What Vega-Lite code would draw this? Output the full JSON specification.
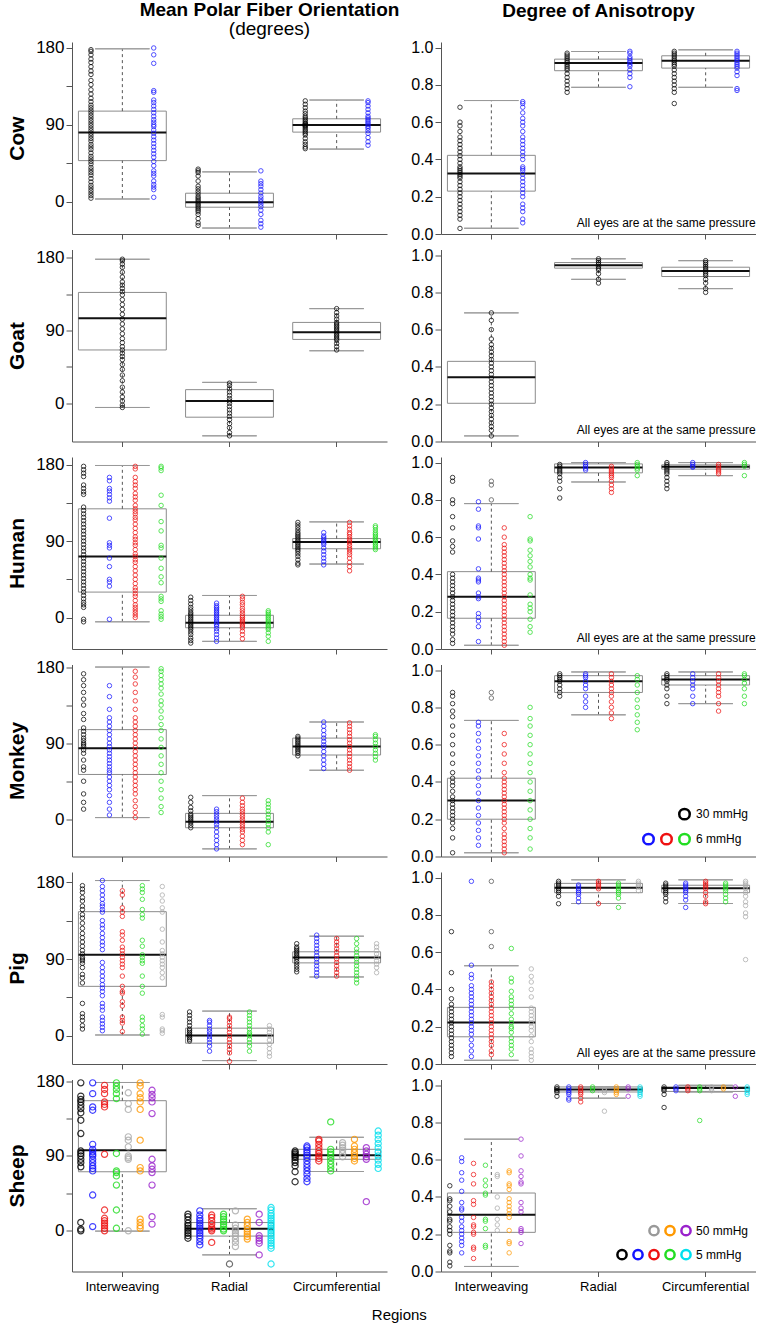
{
"$schema":"https://vega.github.io/schema/vega-lite/v6.json",
"padding":{"left":6,"top":0,"right":0,"bottom":2},
"datasets":{"d":[
{"a":"Cow","m":"L","r":"Interweaving","lw":3,"q1":48,"md":81,"q3":106,"uw":179},
{"a":"Cow","m":"L","r":"Radial","lw":-31,"q1":-6.6,"md":-0.7,"q3":9.8,"uw":34.8},
{"a":"Cow","m":"L","r":"Circumferential","lw":61.5,"q1":81.4,"md":89.6,"q3":97,"uw":119},
{"a":"Goat","m":"L","r":"Interweaving","lw":-5,"q1":66,"md":105,"q3":137,"uw":178},
{"a":"Goat","m":"L","r":"Radial","lw":-40,"q1":-17,"md":3,"q3":17,"uw":26},
{"a":"Goat","m":"L","r":"Circumferential","lw":65,"q1":79,"md":88,"q3":100,"uw":117},
{"a":"Human","m":"L","r":"Interweaving","lw":-5,"q1":30,"md":72,"q3":128,"uw":179},
{"a":"Human","m":"L","r":"Radial","lw":-28,"q1":-12,"md":-6,"q3":2.7,"uw":26},
{"a":"Human","m":"L","r":"Circumferential","lw":63,"q1":81,"md":89,"q3":93,"uw":112.6},
{"a":"Monkey","m":"L","r":"Interweaving","lw":2,"q1":53,"md":84,"q3":106,"uw":180},
{"a":"Monkey","m":"L","r":"Radial","lw":-35,"q1":-10,"md":-3,"q3":7,"uw":28},
{"a":"Monkey","m":"L","r":"Circumferential","lw":58,"q1":76,"md":86,"q3":96,"uw":115},
{"a":"Pig","m":"L","r":"Interweaving","lw":1,"q1":58,"md":95,"q3":145.5,"uw":182},
{"a":"Pig","m":"L","r":"Radial","lw":-29,"q1":-8.6,"md":0.4,"q3":9,"uw":29},
{"a":"Pig","m":"L","r":"Circumferential","lw":69,"q1":85.5,"md":91.8,"q3":98.5,"uw":116.8},
{"a":"Sheep","m":"L","r":"Interweaving","lw":-0.4,"q1":71,"md":97,"q3":156.5,"uw":178.4},
{"a":"Sheep","m":"L","r":"Radial","lw":-29,"q1":-6.4,"md":2.4,"q3":9.9,"uw":26.5},
{"a":"Sheep","m":"L","r":"Circumferential","lw":71.3,"q1":86,"md":91,"q3":98,"uw":112.5},
{"a":"Cow","m":"R","r":"Interweaving","lw":0.031,"q1":0.23,"md":0.325,"q3":0.422,"uw":0.716},
{"a":"Cow","m":"R","r":"Radial","lw":0.787,"q1":0.876,"md":0.917,"q3":0.938,"uw":0.979},
{"a":"Cow","m":"R","r":"Circumferential","lw":0.787,"q1":0.89,"md":0.929,"q3":0.956,"uw":0.988},
{"a":"Goat","m":"R","r":"Interweaving","lw":0.03,"q1":0.205,"md":0.345,"q3":0.43,"uw":0.69},
{"a":"Goat","m":"R","r":"Radial","lw":0.87,"q1":0.93,"md":0.945,"q3":0.96,"uw":0.98},
{"a":"Goat","m":"R","r":"Circumferential","lw":0.82,"q1":0.885,"md":0.915,"q3":0.935,"uw":0.97},
{"a":"Human","m":"R","r":"Interweaving","lw":0.02,"q1":0.165,"md":0.28,"q3":0.415,"uw":0.78},
{"a":"Human","m":"R","r":"Radial","lw":0.896,"q1":0.945,"md":0.974,"q3":0.993,"uw":1.0},
{"a":"Human","m":"R","r":"Circumferential","lw":0.93,"q1":0.965,"md":0.978,"q3":0.988,"uw":1.0},
{"a":"Monkey","m":"R","r":"Interweaving","lw":0.02,"q1":0.2,"md":0.3,"q3":0.42,"uw":0.73},
{"a":"Monkey","m":"R","r":"Radial","lw":0.76,"q1":0.88,"md":0.94,"q3":0.97,"uw":0.99},
{"a":"Monkey","m":"R","r":"Circumferential","lw":0.82,"q1":0.92,"md":0.95,"q3":0.97,"uw":0.99},
{"a":"Pig","m":"R","r":"Interweaving","lw":0.02,"q1":0.146,"md":0.222,"q3":0.304,"uw":0.527},
{"a":"Pig","m":"R","r":"Radial","lw":0.861,"q1":0.919,"md":0.946,"q3":0.969,"uw":0.988},
{"a":"Pig","m":"R","r":"Circumferential","lw":0.861,"q1":0.919,"md":0.943,"q3":0.959,"uw":0.988},
{"a":"Sheep","m":"R","r":"Interweaving","lw":0.027,"q1":0.21,"md":0.304,"q3":0.421,"uw":0.71},
{"a":"Sheep","m":"R","r":"Radial","lw":0.93,"q1":0.963,"md":0.976,"q3":0.99,"uw":0.99},
{"a":"Sheep","m":"R","r":"Circumferential","lw":0.963,"q1":0.966,"md":0.985,"q3":0.99,"uw":0.999},
{"a":"Cow","m":"L","r":"Interweaving","e":"e1","v":[4,7,10,13,16,19,23,27,31,34,37,40,44,47,50,53,57,61,64,67,71,74,77,80,83,86,89,92,95,98,101,104,107,110,113,117,121,126,131,137,142,149,153,158,163,167,172,176,178]},
{"a":"Cow","m":"L","r":"Interweaving","e":"e2","v":[5,14,17,20,24,30,33,36,42,47,52,56,60,64,68,72,76,80,84,88,90,93,96,100,104,108,112,116,119,128,130,162,172,180]},
{"a":"Cow","m":"L","r":"Radial","e":"e1","v":[-28,-25,-20,-15,-12,-10,-8,-6,-4,-2,0,2,4,6,9,12,15,18,24,30,34,36,38]},
{"a":"Cow","m":"L","r":"Radial","e":"e2","v":[-30,-26,-22,-15,-10,-6,-3,0,3,6,10,14,18,21,24,36]},
{"a":"Cow","m":"L","r":"Circumferential","e":"e1","v":[62,64,67,70,74,78,80,82,84,86,88,89,90,91,92,94,96,98,100,103,106,110,114,118]},
{"a":"Cow","m":"L","r":"Circumferential","e":"e2","v":[66,70,75,80,83,86,88,90,92,94,96,98,100,104,108,112,116,118]},
{"a":"Goat","m":"L","r":"Interweaving","e":"e1","v":[-5,-2,3,8,14,20,28,35,42,48,54,58,62,66,70,75,80,86,92,98,104,110,116,122,128,134,138,142,146,150,156,162,168,172,176,178]},
{"a":"Goat","m":"L","r":"Radial","e":"e1","v":[-40,-36,-30,-25,-20,-16,-12,-8,-4,0,3,6,10,14,18,22,25]},
{"a":"Goat","m":"L","r":"Circumferential","e":"e1","v":[66,70,74,78,80,82,84,86,88,90,92,94,96,98,100,104,108,112,117]},
{"a":"Human","m":"L","r":"Interweaving","e":"e1","v":[-5,-2,12,15,18,22,26,30,34,38,42,46,50,54,58,62,66,70,74,78,82,86,90,94,98,102,106,110,114,118,122,126,130,145,148,152,156,166,170,174,178]},
{"a":"Human","m":"L","r":"Interweaving","e":"e2","v":[-2,37,42,45,60,70,82,85,88,117,137,141,145,149,152,161,165]},
{"a":"Human","m":"L","r":"Interweaving","e":"e3","v":[0,3,6,9,12,15,20,25,28,32,35,40,45,50,55,60,65,68,72,75,80,85,88,92,95,100,105,110,115,118,122,125,128,132,138,142,146,152,156,160,165,175,178]},
{"a":"Human","m":"L","r":"Interweaving","e":"e4","v":[-2,1,4,8,19,22,25,41,48,58,70,82,85,102,113,132,144,173,176,178]},
{"a":"Human","m":"L","r":"Radial","e":"e1","v":[-30,-27,-24,-20,-17,-14,-12,-10,-8,-6,-4,-2,0,2,4,6,9,12,16,20,24]},
{"a":"Human","m":"L","r":"Radial","e":"e2","v":[-28,-24,-20,-16,-13,-10,-8,-6,-4,-2,0,2,4,6,8,10,12,14,17]},
{"a":"Human","m":"L","r":"Radial","e":"e3","v":[-25,-20,-16,-12,-10,-8,-6,-4,-2,0,2,5,8,11,15,18,22,25]},
{"a":"Human","m":"L","r":"Radial","e":"e4","v":[-28,-22,-18,-14,-12,-10,-8,-6,-4,-2,0,2,4,6,8]},
{"a":"Human","m":"L","r":"Circumferential","e":"e1","v":[62,64,68,72,75,78,80,82,84,86,88,90,92,94,96,98,100,103,106,109,112]},
{"a":"Human","m":"L","r":"Circumferential","e":"e2","v":[62,66,70,74,78,82,86,88,90,92,94,96,100]},
{"a":"Human","m":"L","r":"Circumferential","e":"e3","v":[55,60,65,70,74,77,80,82,85,88,90,92,95,98,100,104,108,112]},
{"a":"Human","m":"L","r":"Circumferential","e":"e4","v":[80,82,84,86,88,90,92,94,96,98,100,103,106,108]},
{"a":"Monkey","m":"L","r":"Interweaving","e":"e1","v":[12,20,30,45,58,62,70,78,82,86,88,90,93,96,100,104,108,118,125,135,142,150,158,165,172]},
{"a":"Monkey","m":"L","r":"Interweaving","e":"e2","v":[5,12,20,28,35,40,45,50,55,58,62,66,70,74,78,82,86,90,95,100,105,110,115,120,130,145,158]},
{"a":"Monkey","m":"L","r":"Interweaving","e":"e3","v":[2,8,15,22,30,35,40,45,50,55,60,65,70,75,80,85,90,95,100,105,110,115,120,130,140,150,160,168,175]},
{"a":"Monkey","m":"L","r":"Interweaving","e":"e4","v":[8,15,25,35,45,55,65,75,85,95,105,112,120,128,135,140,148,155,160,165,170,175,178]},
{"a":"Monkey","m":"L","r":"Radial","e":"e1","v":[-10,-7,-4,-2,0,2,4,6,10,14,20,26]},
{"a":"Monkey","m":"L","r":"Radial","e":"e2","v":[-35,-30,-25,-20,-15,-10,-6,-3,0,3,6,9,12]},
{"a":"Monkey","m":"L","r":"Radial","e":"e3","v":[-30,-25,-20,-15,-12,-9,-6,-3,0,3,6,9,12,16,20,25]},
{"a":"Monkey","m":"L","r":"Radial","e":"e4","v":[-30,-15,-10,-6,-2,2,6,10,14,18,22]},
{"a":"Monkey","m":"L","r":"Circumferential","e":"e1","v":[75,78,80,82,84,86,88,90,92,94,96,98]},
{"a":"Monkey","m":"L","r":"Circumferential","e":"e2","v":[60,65,70,75,80,85,88,92,96,100,105,110,115]},
{"a":"Monkey","m":"L","r":"Circumferential","e":"e3","v":[58,62,66,70,74,78,82,86,90,94,98,102,106,110,114]},
{"a":"Monkey","m":"L","r":"Circumferential","e":"e4","v":[70,74,78,82,86,90,94,98,100]},
{"a":"Pig","m":"L","r":"Interweaving","e":"e1","v":[8,12,18,22,26,38,62,68,72,80,85,88,90,92,96,100,105,110,115,120,126,132,138,142,148,152,158,162,168,172,176]},
{"a":"Pig","m":"L","r":"Interweaving","e":"e2","v":[6,10,14,18,22,30,34,38,47,52,56,60,65,70,75,80,86,101,106,110,115,120,126,130,135,145,148,152,155,160,165,170,175,182]},
{"a":"Pig","m":"L","r":"Interweaving","e":"e3","v":[5,15,18,22,35,40,50,52,58,70,80,84,88,92,96,100,104,112,118,122,140,145,150,165,170]},
{"a":"Pig","m":"L","r":"Interweaving","e":"e4","v":[2,8,12,18,22,50,58,70,85,88,92,95,105,112,138,142,148,160,168,172,176]},
{"a":"Pig","m":"L","r":"Interweaving","e":"e5","v":[3,6,8,22,25,68,74,80,84,88,92,96,100,110,125,145,150,158,165,175]},
{"a":"Pig","m":"L","r":"Radial","e":"e1","v":[-6,-4,-2,0,2,4,6,8,12,16,20,24,28]},
{"a":"Pig","m":"L","r":"Radial","e":"e2","v":[-18,-12,-8,-4,-1,2,5,8,12,16,18]},
{"a":"Pig","m":"L","r":"Radial","e":"e3","v":[-30,-20,-16,-12,-8,-4,0,4,8,12,16,20,22]},
{"a":"Pig","m":"L","r":"Radial","e":"e4","v":[-18,-12,-8,-4,0,2,4,8,12,16,20,24,28]},
{"a":"Pig","m":"L","r":"Radial","e":"e5","v":[-24,-20,-15,-10,-5,0,4,8,12]},
{"a":"Pig","m":"L","r":"Circumferential","e":"e1","v":[75,78,81,84,87,90,92,94,96,98,100,102,104,108]},
{"a":"Pig","m":"L","r":"Circumferential","e":"e2","v":[70,74,78,82,86,90,94,98,102,106,110,114,118]},
{"a":"Pig","m":"L","r":"Circumferential","e":"e3","v":[70,74,78,82,86,90,94,98,102,106,110,114]},
{"a":"Pig","m":"L","r":"Circumferential","e":"e4","v":[62,66,70,74,78,82,86,90,94,98,102,108,114]},
{"a":"Pig","m":"L","r":"Circumferential","e":"e5","v":[74,80,84,88,92,96,100,104,108]},
{"a":"Sheep","m":"L","r":"Interweaving","e":"e1","v":[0,2,10,77,82,86,90,93,96,117,133,142,147,151,155,158,162,178]},
{"a":"Sheep","m":"L","r":"Interweaving","e":"e2","v":[5,43,72,75,78,82,86,90,92,95,98,104,145,149,165,178]},
{"a":"Sheep","m":"L","r":"Interweaving","e":"e3","v":[0,3,6,9,12,15,25,92,149,152,155,165,170,175]},
{"a":"Sheep","m":"L","r":"Interweaving","e":"e4","v":[3,25,55,66,70,72,93,159,165,170,174,178]},
{"a":"Sheep","m":"L","r":"Interweaving","e":"e5","v":[0,86,88,90,101,109,113,146,153,166]},
{"a":"Sheep","m":"L","r":"Interweaving","e":"e6","v":[3,6,10,14,72,76,109,146,155,160,165,174,178]},
{"a":"Sheep","m":"L","r":"Interweaving","e":"e7","v":[8,17,55,70,74,78,86,141,155,160,164,169]},
{"a":"Sheep","m":"L","r":"Radial","e":"e1","v":[-9,-6,-3,0,3,6,9,13,17,20]},
{"a":"Sheep","m":"L","r":"Radial","e":"e2","v":[-17,-13,-9,-6,-3,0,3,6,9,12,15,19,24]},
{"a":"Sheep","m":"L","r":"Radial","e":"e3","v":[-14,0,2,4,8,12,16,19]},
{"a":"Sheep","m":"L","r":"Radial","e":"e4","v":[0,2,5,8,11,14,17,20]},
{"a":"Sheep","m":"L","r":"Radial","e":"e5","v":[-19,-14,-10,-6,-3,0,3,7,24]},
{"a":"Sheep","m":"L","r":"Radial","e":"e6","v":[-10,-7,-4,-1,2,6,10,14]},
{"a":"Sheep","m":"L","r":"Radial","e":"e7","v":[-29,-15,-12,-9,-6,10,20]},
{"a":"Sheep","m":"L","r":"Radial","e":"e8","v":[-40,-21,-18,-15,-12,-9,-6,-3,0,3,6,9,12,15,18,21,25,28]},
{"a":"Sheep","m":"L","r":"Circumferential","e":"e1","v":[59,71,78,82,85,88,90,92,94,96]},
{"a":"Sheep","m":"L","r":"Circumferential","e":"e2","v":[59,63,68,72,76,80,84,88,91,94,97,100,102]},
{"a":"Sheep","m":"L","r":"Circumferential","e":"e3","v":[84,87,90,93,96,100,104,108,110]},
{"a":"Sheep","m":"L","r":"Circumferential","e":"e4","v":[72,76,80,84,88,92,95,98,131]},
{"a":"Sheep","m":"L","r":"Circumferential","e":"e5","v":[89,93,97,100,103,106]},
{"a":"Sheep","m":"L","r":"Circumferential","e":"e6","v":[84,87,90,94,98,102,110]},
{"a":"Sheep","m":"L","r":"Circumferential","e":"e7","v":[35,86,89,92,96,100]},
{"a":"Sheep","m":"L","r":"Circumferential","e":"e8","v":[75,80,85,90,95,100,105,110,115,120]},
{"a":"Sheep","m":"L","r":"Radial","o":[-40]},
{"a":"Cow","m":"R","r":"Interweaving","e":"e1","v":[0.03,0.08,0.1,0.12,0.14,0.16,0.18,0.2,0.22,0.24,0.26,0.28,0.3,0.31,0.32,0.33,0.34,0.35,0.36,0.38,0.4,0.42,0.44,0.46,0.48,0.5,0.52,0.55,0.58,0.6,0.68]},
{"a":"Cow","m":"R","r":"Interweaving","e":"e2","v":[0.06,0.08,0.12,0.14,0.16,0.2,0.22,0.24,0.26,0.28,0.3,0.32,0.34,0.35,0.36,0.4,0.42,0.44,0.46,0.48,0.5,0.52,0.55,0.58,0.6,0.62,0.65,0.68,0.7,0.71]},
{"a":"Cow","m":"R","r":"Radial","e":"e1","v":[0.76,0.78,0.8,0.82,0.84,0.86,0.88,0.89,0.9,0.91,0.92,0.93,0.94,0.95,0.96,0.97]},
{"a":"Cow","m":"R","r":"Radial","e":"e2","v":[0.79,0.84,0.86,0.88,0.9,0.91,0.92,0.93,0.94,0.95,0.97,0.98]},
{"a":"Cow","m":"R","r":"Circumferential","e":"e1","v":[0.7,0.76,0.78,0.8,0.82,0.84,0.86,0.88,0.9,0.91,0.92,0.93,0.94,0.95,0.96,0.97,0.98]},
{"a":"Cow","m":"R","r":"Circumferential","e":"e2","v":[0.77,0.78,0.85,0.87,0.89,0.9,0.91,0.92,0.93,0.94,0.95,0.96,0.97,0.98]},
{"a":"Goat","m":"R","r":"Interweaving","e":"e1","v":[0.03,0.06,0.08,0.1,0.12,0.14,0.16,0.18,0.2,0.22,0.24,0.26,0.28,0.3,0.32,0.34,0.36,0.38,0.4,0.42,0.44,0.46,0.48,0.5,0.52,0.55,0.6,0.65,0.69]},
{"a":"Goat","m":"R","r":"Radial","e":"e1","v":[0.85,0.87,0.9,0.92,0.93,0.94,0.95,0.96,0.97,0.98]},
{"a":"Goat","m":"R","r":"Circumferential","e":"e1","v":[0.8,0.82,0.85,0.87,0.89,0.9,0.91,0.92,0.93,0.94,0.95,0.96,0.97]},
{"a":"Human","m":"R","r":"Interweaving","e":"e1","v":[0.03,0.05,0.08,0.1,0.12,0.14,0.16,0.18,0.2,0.22,0.24,0.26,0.28,0.3,0.32,0.34,0.36,0.38,0.4,0.52,0.55,0.58,0.65,0.71,0.78,0.8,0.9,0.92]},
{"a":"Human","m":"R","r":"Interweaving","e":"e2","v":[0.04,0.12,0.15,0.17,0.19,0.27,0.28,0.3,0.36,0.37,0.38,0.43,0.59,0.65,0.66,0.75,0.79]},
{"a":"Human","m":"R","r":"Interweaving","e":"e3","v":[0.02,0.04,0.06,0.08,0.1,0.12,0.14,0.16,0.18,0.2,0.22,0.24,0.26,0.28,0.3,0.32,0.34,0.36,0.38,0.4,0.42,0.44,0.46,0.48,0.5,0.52,0.54,0.56,0.6,0.65]},
{"a":"Human","m":"R","r":"Interweaving","e":"e4","v":[0.09,0.12,0.16,0.2,0.22,0.24,0.29,0.37,0.38,0.4,0.44,0.47,0.5,0.53,0.58,0.59,0.71]},
{"a":"Human","m":"R","r":"Radial","e":"e1","v":[0.81,0.86,0.9,0.92,0.94,0.95,0.96,0.97,0.98,0.99]},
{"a":"Human","m":"R","r":"Radial","e":"e2","v":[0.96,0.97,0.98,0.99,1.0]},
{"a":"Human","m":"R","r":"Radial","e":"e3","v":[0.84,0.86,0.88,0.9,0.92,0.93,0.94,0.95,0.96,0.97,0.98]},
{"a":"Human","m":"R","r":"Radial","e":"e4","v":[0.93,0.96,0.97,0.98,0.99,1.0]},
{"a":"Human","m":"R","r":"Circumferential","e":"e1","v":[0.86,0.88,0.9,0.92,0.94,0.95,0.96,0.97,0.98,0.99,1.0]},
{"a":"Human","m":"R","r":"Circumferential","e":"e2","v":[0.975,0.98,0.99,1.0]},
{"a":"Human","m":"R","r":"Circumferential","e":"e3","v":[0.94,0.95,0.96,0.97,0.98,0.99]},
{"a":"Human","m":"R","r":"Circumferential","e":"e4","v":[0.93,0.98,0.99,1.0]},
{"a":"Human","m":"R","r":"Interweaving","o":[0.8,0.88,0.9]},
{"a":"Monkey","m":"R","r":"Interweaving","e":"e1","v":[0.02,0.1,0.15,0.18,0.2,0.22,0.24,0.26,0.28,0.3,0.32,0.35,0.38,0.4,0.42,0.45,0.5,0.55,0.6,0.65,0.7,0.75,0.78,0.82,0.86,0.88]},
{"a":"Monkey","m":"R","r":"Interweaving","e":"e2","v":[0.06,0.1,0.14,0.18,0.22,0.26,0.3,0.34,0.38,0.42,0.46,0.5,0.54,0.58,0.62,0.66,0.7,0.72]},
{"a":"Monkey","m":"R","r":"Interweaving","e":"e3","v":[0.02,0.04,0.06,0.08,0.1,0.12,0.15,0.18,0.2,0.22,0.24,0.26,0.28,0.3,0.32,0.34,0.36,0.38,0.4,0.42,0.45,0.5,0.55,0.6,0.66]},
{"a":"Monkey","m":"R","r":"Interweaving","e":"e4","v":[0.04,0.1,0.15,0.2,0.25,0.3,0.35,0.4,0.45,0.5,0.55,0.6,0.65,0.7,0.74,0.8]},
{"a":"Monkey","m":"R","r":"Radial","e":"e1","v":[0.86,0.88,0.9,0.92,0.94,0.95,0.96,0.97,0.98]},
{"a":"Monkey","m":"R","r":"Radial","e":"e2","v":[0.8,0.83,0.86,0.9,0.92,0.94,0.96,0.97,0.98]},
{"a":"Monkey","m":"R","r":"Radial","e":"e3","v":[0.74,0.77,0.8,0.83,0.86,0.88,0.9,0.92,0.94,0.96,0.98]},
{"a":"Monkey","m":"R","r":"Radial","e":"e4","v":[0.68,0.72,0.76,0.8,0.84,0.88,0.92,0.95,0.97]},
{"a":"Monkey","m":"R","r":"Circumferential","e":"e1","v":[0.82,0.86,0.9,0.92,0.94,0.95,0.96,0.97,0.98]},
{"a":"Monkey","m":"R","r":"Circumferential","e":"e2","v":[0.82,0.86,0.9,0.92,0.94,0.96,0.98]},
{"a":"Monkey","m":"R","r":"Circumferential","e":"e3","v":[0.78,0.82,0.86,0.88,0.9,0.92,0.94,0.96,0.98]},
{"a":"Monkey","m":"R","r":"Circumferential","e":"e4","v":[0.82,0.86,0.9,0.93,0.95,0.97,0.98]},
{"a":"Monkey","m":"R","r":"Interweaving","o":[0.85,0.88]},
{"a":"Pig","m":"R","r":"Interweaving","e":"e1","v":[0.04,0.06,0.08,0.1,0.12,0.14,0.16,0.18,0.2,0.22,0.24,0.26,0.28,0.3,0.32,0.35,0.4,0.49,0.71]},
{"a":"Pig","m":"R","r":"Interweaving","e":"e2","v":[0.04,0.07,0.1,0.13,0.16,0.18,0.2,0.22,0.24,0.26,0.28,0.3,0.32,0.34,0.36,0.38,0.4,0.42,0.46,0.48,0.53,0.98]},
{"a":"Pig","m":"R","r":"Interweaving","e":"e3","v":[0.05,0.07,0.1,0.12,0.14,0.16,0.18,0.2,0.22,0.24,0.26,0.28,0.3,0.32,0.34,0.36,0.38,0.4,0.42,0.44]},
{"a":"Pig","m":"R","r":"Interweaving","e":"e4","v":[0.05,0.08,0.1,0.12,0.14,0.17,0.19,0.2,0.22,0.24,0.27,0.3,0.32,0.34,0.36,0.39,0.44,0.46,0.62]},
{"a":"Pig","m":"R","r":"Interweaving","e":"e5","v":[0.02,0.04,0.06,0.08,0.12,0.15,0.18,0.2,0.22,0.24,0.26,0.28,0.3,0.36,0.4,0.44,0.47,0.51]},
{"a":"Pig","m":"R","r":"Radial","e":"e1","v":[0.86,0.9,0.92,0.93,0.94,0.95,0.96,0.97,0.98]},
{"a":"Pig","m":"R","r":"Radial","e":"e2","v":[0.87,0.89,0.91,0.92,0.93,0.94,0.95,0.96]},
{"a":"Pig","m":"R","r":"Radial","e":"e3","v":[0.86,0.94,0.95,0.96,0.97,0.98]},
{"a":"Pig","m":"R","r":"Radial","e":"e4","v":[0.84,0.89,0.91,0.92,0.93,0.94,0.95,0.96,0.97]},
{"a":"Pig","m":"R","r":"Radial","e":"e5","v":[0.93,0.95,0.96,0.97,0.98]},
{"a":"Pig","m":"R","r":"Circumferential","e":"e1","v":[0.87,0.89,0.91,0.92,0.93,0.94,0.95,0.96,0.97]},
{"a":"Pig","m":"R","r":"Circumferential","e":"e2","v":[0.84,0.88,0.9,0.92,0.93,0.94,0.95,0.96,0.97]},
{"a":"Pig","m":"R","r":"Circumferential","e":"e3","v":[0.86,0.87,0.9,0.92,0.94,0.95,0.96,0.97,0.98]},
{"a":"Pig","m":"R","r":"Circumferential","e":"e4","v":[0.87,0.89,0.91,0.93,0.94,0.95,0.96,0.97]},
{"a":"Pig","m":"R","r":"Circumferential","e":"e5","v":[0.56,0.79,0.81,0.85,0.87,0.9,0.92,0.94,0.95,0.96,0.97,0.98]},
{"a":"Pig","m":"R","r":"Interweaving","o":[0.63,0.71,0.98]},
{"a":"Sheep","m":"R","r":"Interweaving","e":"e1","v":[0.03,0.05,0.1,0.11,0.14,0.2,0.22,0.24,0.27,0.28,0.32,0.35,0.38,0.39,0.46]},
{"a":"Sheep","m":"R","r":"Interweaving","e":"e2","v":[0.1,0.14,0.16,0.18,0.2,0.22,0.24,0.27,0.29,0.33,0.34,0.37,0.43,0.49,0.53,0.59,0.61]},
{"a":"Sheep","m":"R","r":"Interweaving","e":"e3","v":[0.07,0.12,0.13,0.2,0.21,0.24,0.25,0.29,0.36,0.38,0.47,0.52,0.58]},
{"a":"Sheep","m":"R","r":"Interweaving","e":"e4","v":[0.13,0.14,0.23,0.27,0.28,0.41,0.42,0.46,0.49,0.57]},
{"a":"Sheep","m":"R","r":"Interweaving","e":"e5","v":[0.22,0.25,0.28,0.34,0.4,0.51,0.52]},
{"a":"Sheep","m":"R","r":"Interweaving","e":"e6","v":[0.1,0.15,0.16,0.22,0.29,0.31,0.33,0.35,0.37,0.39,0.44,0.46,0.47,0.53,0.54]},
{"a":"Sheep","m":"R","r":"Interweaving","e":"e7","v":[0.15,0.21,0.22,0.23,0.32,0.34,0.37,0.47,0.48,0.51,0.54,0.62,0.71]},
{"a":"Sheep","m":"R","r":"Radial","e":"e1","v":[0.94,0.96,0.97,0.98,0.99]},
{"a":"Sheep","m":"R","r":"Radial","e":"e2","v":[0.92,0.93,0.95,0.96,0.97,0.98,0.99]},
{"a":"Sheep","m":"R","r":"Radial","e":"e3","v":[0.91,0.93,0.95,0.96,0.97,0.98,0.99]},
{"a":"Sheep","m":"R","r":"Radial","e":"e4","v":[0.97,0.98,0.99]},
{"a":"Sheep","m":"R","r":"Radial","e":"e5","v":[0.86,0.96,0.97,0.98]},
{"a":"Sheep","m":"R","r":"Radial","e":"e6","v":[0.95,0.96,0.97,0.98,0.99]},
{"a":"Sheep","m":"R","r":"Radial","e":"e7","v":[0.94,0.98,0.99]},
{"a":"Sheep","m":"R","r":"Radial","e":"e8","v":[0.94,0.95,0.96,0.97,0.98,0.99]},
{"a":"Sheep","m":"R","r":"Circumferential","e":"e1","v":[0.88,0.95,0.97,0.98,0.99]},
{"a":"Sheep","m":"R","r":"Circumferential","e":"e2","v":[0.97,0.98,0.99]},
{"a":"Sheep","m":"R","r":"Circumferential","e":"e3","v":[0.97,0.98,0.99]},
{"a":"Sheep","m":"R","r":"Circumferential","e":"e4","v":[0.81,0.97,0.98,0.99]},
{"a":"Sheep","m":"R","r":"Circumferential","e":"e5","v":[0.97,0.98,0.99]},
{"a":"Sheep","m":"R","r":"Circumferential","e":"e6","v":[0.98,0.99]},
{"a":"Sheep","m":"R","r":"Circumferential","e":"e7","v":[0.94,0.99]},
{"a":"Sheep","m":"R","r":"Circumferential","e":"e8","v":[0.95,0.96,0.97,0.98,0.99]}
]},
"title":{"text":"Regions","orient":"bottom","anchor":"middle","fontSize":15,"fontWeight":"normal","offset":14,"dx":18},
"columns":2,
"spacing":{"row":15.5,"column":54},
"bounds":"flush",
"resolve":{"scale":{"color":"independent","stroke":"independent"}},
"concat":[
{"width":315,"height":192,"data":{"name":"d"},"transform":[{"filter":"datum.a=='Cow'&&datum.m=='L'"}],
"title":{"text":"Mean Polar Fiber Orientation","subtitle":"(degrees)","fontSize":19,"fontWeight":"bold","subtitleFontSize":19,"subtitleFontWeight":"normal","subtitlePadding":0,"anchor":"middle","frame":"group","dx":40,"offset":0},
"resolve":{"scale":{"x":"independent","xOffset":"independent"}},
"encoding":{"x":{"field":"r","type":"nominal","scale":{"domain":["Interweaving","Radial","Circumferential"],"paddingInner":0.18,"paddingOuter":0.06},"axis":null}},
"layer":[
{"encoding":{"x":{"field":"r","type":"nominal","title":null,"scale":{"domain":["Interweaving","Radial","Circumferential"],"paddingInner":0.18,"paddingOuter":0.06},"axis":{"labels":false,"title":null,"tickSize":5}}},
"layer":[
{"transform":[{"filter":"datum.q1!=null"}],"mark":{"type":"bar","fill":"transparent","stroke":"#8c8c8c","strokeWidth":1},"encoding":{"y":{"field":"q1","type":"quantitative","title":"Cow","scale":{"domain":[-38,187],"nice":false,"zero":false},"axis":{"title":"Cow","values":[0,45,90,135,180],"tickCount":5,"labelExpr":"datum.value % 90 === 0 ? datum.label : ''","labelFontSize":17,"titleFontSize":21,"titleFontWeight":"bold","titlePadding":8,"labelOverlap":false}},"y2":{"field":"q3"}}},
{"transform":[{"filter":"datum.q1!=null"}],"mark":{"type":"rule","stroke":"#555","strokeDash":[3,3]},"encoding":{"y":{"field":"q3","type":"quantitative"},"y2":{"field":"uw"}}},
{"transform":[{"filter":"datum.q1!=null"}],"mark":{"type":"rule","stroke":"#555","strokeDash":[3,3]},"encoding":{"y":{"field":"lw","type":"quantitative"},"y2":{"field":"q1"}}},
{"transform":[{"filter":"datum.q1!=null"}],"mark":{"type":"bar","width":{"band":0.62},"fill":"transparent","stroke":"#999","strokeWidth":1},"encoding":{"y":{"field":"uw","type":"quantitative"},"y2":{"field":"uw"}}},
{"transform":[{"filter":"datum.q1!=null"}],"mark":{"type":"bar","width":{"band":0.62},"fill":"transparent","stroke":"#999","strokeWidth":1},"encoding":{"y":{"field":"lw","type":"quantitative"},"y2":{"field":"lw"}}},
{"transform":[{"filter":"datum.q1!=null"}],"mark":{"type":"bar","fill":"transparent","stroke":"#111","strokeWidth":2},"encoding":{"y":{"field":"md","type":"quantitative"},"y2":{"field":"md"}}}
]},
{"transform":[{"filter":"datum.e!=null"},{"flatten":["v"]}],"mark":{"type":"point","filled":false,"size":20,"strokeWidth":1,"opacity":0.75},"encoding":{"xOffset":{"field":"e","type":"nominal","scale":{"type":"point","padding":0.2}},"y":{"field":"v","type":"quantitative","axis":{"title":"Cow","values":[0,45,90,135,180],"tickCount":5,"labelExpr":"datum.value % 90 === 0 ? datum.label : ''","labelFontSize":17,"titleFontSize":21,"titleFontWeight":"bold","titlePadding":8,"labelOverlap":false}},"color":{"field":"e","type":"nominal","scale":{"domain":["e1","e2","e3","e4","e5","e6","e7","e8"],"range":["#000000","#1414ff","#ee1111","#22dd22","#aaaaaa","#ff9900","#9a22cc","#00e0ee"]},"legend":null}}}
]},
{"width":315,"height":192,"data":{"name":"d"},"transform":[{"filter":"datum.a=='Cow'&&datum.m=='R'"}],
"title":{"text":"Degree of Anisotropy","subtitle":" ","fontSize":19,"fontWeight":"bold","subtitleFontSize":19,"subtitleFontWeight":"normal","subtitlePadding":0,"anchor":"middle","frame":"group","offset":0},
"resolve":{"scale":{"x":"independent","xOffset":"independent"}},
"encoding":{"x":{"field":"r","type":"nominal","scale":{"domain":["Interweaving","Radial","Circumferential"],"paddingInner":0.18,"paddingOuter":0.06},"axis":null}},
"layer":[
{"encoding":{"x":{"field":"r","type":"nominal","title":null,"scale":{"domain":["Interweaving","Radial","Circumferential"],"paddingInner":0.18,"paddingOuter":0.06},"axis":{"labels":false,"title":null,"tickSize":5}}},
"layer":[
{"transform":[{"filter":"datum.q1!=null"}],"mark":{"type":"bar","fill":"transparent","stroke":"#8c8c8c","strokeWidth":1},"encoding":{"y":{"field":"q1","type":"quantitative","title":null,"scale":{"domain":[0,1.03],"nice":false,"zero":false},"axis":{"title":null,"values":[0,0.2,0.4,0.6,0.8,1],"tickCount":6,"format":".1f","labelFontSize":16,"labelOverlap":false}},"y2":{"field":"q3"}}},
{"transform":[{"filter":"datum.q1!=null"}],"mark":{"type":"rule","stroke":"#555","strokeDash":[3,3]},"encoding":{"y":{"field":"q3","type":"quantitative"},"y2":{"field":"uw"}}},
{"transform":[{"filter":"datum.q1!=null"}],"mark":{"type":"rule","stroke":"#555","strokeDash":[3,3]},"encoding":{"y":{"field":"lw","type":"quantitative"},"y2":{"field":"q1"}}},
{"transform":[{"filter":"datum.q1!=null"}],"mark":{"type":"bar","width":{"band":0.62},"fill":"transparent","stroke":"#999","strokeWidth":1},"encoding":{"y":{"field":"uw","type":"quantitative"},"y2":{"field":"uw"}}},
{"transform":[{"filter":"datum.q1!=null"}],"mark":{"type":"bar","width":{"band":0.62},"fill":"transparent","stroke":"#999","strokeWidth":1},"encoding":{"y":{"field":"lw","type":"quantitative"},"y2":{"field":"lw"}}},
{"transform":[{"filter":"datum.q1!=null"}],"mark":{"type":"bar","fill":"transparent","stroke":"#111","strokeWidth":2},"encoding":{"y":{"field":"md","type":"quantitative"},"y2":{"field":"md"}}},
{"data":{"values":[{"t":"All eyes are at the same pressure"}]},"mark":{"type":"text","align":"right","baseline":"alphabetic","fontSize":12,"dx":6,"color":"#000"},"encoding":{"x":{"datum":"Circumferential","bandPosition":1},"y":{"datum":0.04},"text":{"field":"t"}}}
]},
{"transform":[{"filter":"datum.e!=null"},{"flatten":["v"]}],"mark":{"type":"point","filled":false,"size":20,"strokeWidth":1,"opacity":0.75},"encoding":{"xOffset":{"field":"e","type":"nominal","scale":{"type":"point","padding":0.2}},"y":{"field":"v","type":"quantitative","axis":{"title":null,"values":[0,0.2,0.4,0.6,0.8,1],"tickCount":6,"format":".1f","labelFontSize":16,"labelOverlap":false}},"color":{"field":"e","type":"nominal","scale":{"domain":["e1","e2","e3","e4","e5","e6","e7","e8"],"range":["#000000","#1414ff","#ee1111","#22dd22","#aaaaaa","#ff9900","#9a22cc","#00e0ee"]},"legend":null}}}
]},
{"width":315,"height":192,"data":{"name":"d"},"transform":[{"filter":"datum.a=='Goat'&&datum.m=='L'"}],
"resolve":{"scale":{"x":"independent","xOffset":"independent"}},
"encoding":{"x":{"field":"r","type":"nominal","scale":{"domain":["Interweaving","Radial","Circumferential"],"paddingInner":0.18,"paddingOuter":0.06},"axis":null}},
"layer":[
{"encoding":{"x":{"field":"r","type":"nominal","title":null,"scale":{"domain":["Interweaving","Radial","Circumferential"],"paddingInner":0.18,"paddingOuter":0.06},"axis":{"labels":false,"title":null,"tickSize":5}}},
"layer":[
{"transform":[{"filter":"datum.q1!=null"}],"mark":{"type":"bar","fill":"transparent","stroke":"#8c8c8c","strokeWidth":1},"encoding":{"y":{"field":"q1","type":"quantitative","title":"Goat","scale":{"domain":[-47,190],"nice":false,"zero":false},"axis":{"title":"Goat","values":[0,45,90,135,180],"tickCount":5,"labelExpr":"datum.value % 90 === 0 ? datum.label : ''","labelFontSize":17,"titleFontSize":21,"titleFontWeight":"bold","titlePadding":8,"labelOverlap":false}},"y2":{"field":"q3"}}},
{"transform":[{"filter":"datum.q1!=null"}],"mark":{"type":"rule","stroke":"#555","strokeDash":[3,3]},"encoding":{"y":{"field":"q3","type":"quantitative"},"y2":{"field":"uw"}}},
{"transform":[{"filter":"datum.q1!=null"}],"mark":{"type":"rule","stroke":"#555","strokeDash":[3,3]},"encoding":{"y":{"field":"lw","type":"quantitative"},"y2":{"field":"q1"}}},
{"transform":[{"filter":"datum.q1!=null"}],"mark":{"type":"bar","width":{"band":0.62},"fill":"transparent","stroke":"#999","strokeWidth":1},"encoding":{"y":{"field":"uw","type":"quantitative"},"y2":{"field":"uw"}}},
{"transform":[{"filter":"datum.q1!=null"}],"mark":{"type":"bar","width":{"band":0.62},"fill":"transparent","stroke":"#999","strokeWidth":1},"encoding":{"y":{"field":"lw","type":"quantitative"},"y2":{"field":"lw"}}},
{"transform":[{"filter":"datum.q1!=null"}],"mark":{"type":"bar","fill":"transparent","stroke":"#111","strokeWidth":2},"encoding":{"y":{"field":"md","type":"quantitative"},"y2":{"field":"md"}}}
]},
{"transform":[{"filter":"datum.e!=null"},{"flatten":["v"]}],"mark":{"type":"point","filled":false,"size":20,"strokeWidth":1,"opacity":0.75},"encoding":{"xOffset":{"field":"e","type":"nominal","scale":{"type":"point","padding":0.2}},"y":{"field":"v","type":"quantitative","axis":{"title":"Goat","values":[0,45,90,135,180],"tickCount":5,"labelExpr":"datum.value % 90 === 0 ? datum.label : ''","labelFontSize":17,"titleFontSize":21,"titleFontWeight":"bold","titlePadding":8,"labelOverlap":false}},"color":{"field":"e","type":"nominal","scale":{"domain":["e1","e2","e3","e4","e5","e6","e7","e8"],"range":["#000000","#1414ff","#ee1111","#22dd22","#aaaaaa","#ff9900","#9a22cc","#00e0ee"]},"legend":null}}}
]},
{"width":315,"height":192,"data":{"name":"d"},"transform":[{"filter":"datum.a=='Goat'&&datum.m=='R'"}],
"resolve":{"scale":{"x":"independent","xOffset":"independent"}},
"encoding":{"x":{"field":"r","type":"nominal","scale":{"domain":["Interweaving","Radial","Circumferential"],"paddingInner":0.18,"paddingOuter":0.06},"axis":null}},
"layer":[
{"encoding":{"x":{"field":"r","type":"nominal","title":null,"scale":{"domain":["Interweaving","Radial","Circumferential"],"paddingInner":0.18,"paddingOuter":0.06},"axis":{"labels":false,"title":null,"tickSize":5}}},
"layer":[
{"transform":[{"filter":"datum.q1!=null"}],"mark":{"type":"bar","fill":"transparent","stroke":"#8c8c8c","strokeWidth":1},"encoding":{"y":{"field":"q1","type":"quantitative","title":null,"scale":{"domain":[0,1.03],"nice":false,"zero":false},"axis":{"title":null,"values":[0,0.2,0.4,0.6,0.8,1],"tickCount":6,"format":".1f","labelFontSize":16,"labelOverlap":false}},"y2":{"field":"q3"}}},
{"transform":[{"filter":"datum.q1!=null"}],"mark":{"type":"rule","stroke":"#555","strokeDash":[3,3]},"encoding":{"y":{"field":"q3","type":"quantitative"},"y2":{"field":"uw"}}},
{"transform":[{"filter":"datum.q1!=null"}],"mark":{"type":"rule","stroke":"#555","strokeDash":[3,3]},"encoding":{"y":{"field":"lw","type":"quantitative"},"y2":{"field":"q1"}}},
{"transform":[{"filter":"datum.q1!=null"}],"mark":{"type":"bar","width":{"band":0.62},"fill":"transparent","stroke":"#999","strokeWidth":1},"encoding":{"y":{"field":"uw","type":"quantitative"},"y2":{"field":"uw"}}},
{"transform":[{"filter":"datum.q1!=null"}],"mark":{"type":"bar","width":{"band":0.62},"fill":"transparent","stroke":"#999","strokeWidth":1},"encoding":{"y":{"field":"lw","type":"quantitative"},"y2":{"field":"lw"}}},
{"transform":[{"filter":"datum.q1!=null"}],"mark":{"type":"bar","fill":"transparent","stroke":"#111","strokeWidth":2},"encoding":{"y":{"field":"md","type":"quantitative"},"y2":{"field":"md"}}},
{"data":{"values":[{"t":"All eyes are at the same pressure"}]},"mark":{"type":"text","align":"right","baseline":"alphabetic","fontSize":12,"dx":6,"color":"#000"},"encoding":{"x":{"datum":"Circumferential","bandPosition":1},"y":{"datum":0.04},"text":{"field":"t"}}}
]},
{"transform":[{"filter":"datum.e!=null"},{"flatten":["v"]}],"mark":{"type":"point","filled":false,"size":20,"strokeWidth":1,"opacity":0.75},"encoding":{"xOffset":{"field":"e","type":"nominal","scale":{"type":"point","padding":0.2}},"y":{"field":"v","type":"quantitative","axis":{"title":null,"values":[0,0.2,0.4,0.6,0.8,1],"tickCount":6,"format":".1f","labelFontSize":16,"labelOverlap":false}},"color":{"field":"e","type":"nominal","scale":{"domain":["e1","e2","e3","e4","e5","e6","e7","e8"],"range":["#000000","#1414ff","#ee1111","#22dd22","#aaaaaa","#ff9900","#9a22cc","#00e0ee"]},"legend":null}}}
]},
{"width":315,"height":192,"data":{"name":"d"},"transform":[{"filter":"datum.a=='Human'&&datum.m=='L'"}],
"resolve":{"scale":{"x":"independent","xOffset":"independent"}},
"encoding":{"x":{"field":"r","type":"nominal","scale":{"domain":["Interweaving","Radial","Circumferential"],"paddingInner":0.18,"paddingOuter":0.06},"axis":null}},
"layer":[
{"encoding":{"x":{"field":"r","type":"nominal","title":null,"scale":{"domain":["Interweaving","Radial","Circumferential"],"paddingInner":0.18,"paddingOuter":0.06},"axis":{"labels":false,"title":null,"tickSize":5}}},
"layer":[
{"transform":[{"filter":"datum.q1!=null"}],"mark":{"type":"bar","fill":"transparent","stroke":"#8c8c8c","strokeWidth":1},"encoding":{"y":{"field":"q1","type":"quantitative","title":"Human","scale":{"domain":[-37,189],"nice":false,"zero":false},"axis":{"title":"Human","values":[0,45,90,135,180],"tickCount":5,"labelExpr":"datum.value % 90 === 0 ? datum.label : ''","labelFontSize":17,"titleFontSize":21,"titleFontWeight":"bold","titlePadding":8,"labelOverlap":false}},"y2":{"field":"q3"}}},
{"transform":[{"filter":"datum.q1!=null"}],"mark":{"type":"rule","stroke":"#555","strokeDash":[3,3]},"encoding":{"y":{"field":"q3","type":"quantitative"},"y2":{"field":"uw"}}},
{"transform":[{"filter":"datum.q1!=null"}],"mark":{"type":"rule","stroke":"#555","strokeDash":[3,3]},"encoding":{"y":{"field":"lw","type":"quantitative"},"y2":{"field":"q1"}}},
{"transform":[{"filter":"datum.q1!=null"}],"mark":{"type":"bar","width":{"band":0.62},"fill":"transparent","stroke":"#999","strokeWidth":1},"encoding":{"y":{"field":"uw","type":"quantitative"},"y2":{"field":"uw"}}},
{"transform":[{"filter":"datum.q1!=null"}],"mark":{"type":"bar","width":{"band":0.62},"fill":"transparent","stroke":"#999","strokeWidth":1},"encoding":{"y":{"field":"lw","type":"quantitative"},"y2":{"field":"lw"}}},
{"transform":[{"filter":"datum.q1!=null"}],"mark":{"type":"bar","fill":"transparent","stroke":"#111","strokeWidth":2},"encoding":{"y":{"field":"md","type":"quantitative"},"y2":{"field":"md"}}}
]},
{"transform":[{"filter":"datum.e!=null"},{"flatten":["v"]}],"mark":{"type":"point","filled":false,"size":20,"strokeWidth":1,"opacity":0.75},"encoding":{"xOffset":{"field":"e","type":"nominal","scale":{"type":"point","padding":0.2}},"y":{"field":"v","type":"quantitative","axis":{"title":"Human","values":[0,45,90,135,180],"tickCount":5,"labelExpr":"datum.value % 90 === 0 ? datum.label : ''","labelFontSize":17,"titleFontSize":21,"titleFontWeight":"bold","titlePadding":8,"labelOverlap":false}},"color":{"field":"e","type":"nominal","scale":{"domain":["e1","e2","e3","e4","e5","e6","e7","e8"],"range":["#000000","#1414ff","#ee1111","#22dd22","#aaaaaa","#ff9900","#9a22cc","#00e0ee"]},"legend":null}}}
]},
{"width":315,"height":192,"data":{"name":"d"},"transform":[{"filter":"datum.a=='Human'&&datum.m=='R'"}],
"resolve":{"scale":{"x":"independent","xOffset":"independent"}},
"encoding":{"x":{"field":"r","type":"nominal","scale":{"domain":["Interweaving","Radial","Circumferential"],"paddingInner":0.18,"paddingOuter":0.06},"axis":null}},
"layer":[
{"encoding":{"x":{"field":"r","type":"nominal","title":null,"scale":{"domain":["Interweaving","Radial","Circumferential"],"paddingInner":0.18,"paddingOuter":0.06},"axis":{"labels":false,"title":null,"tickSize":5}}},
"layer":[
{"transform":[{"filter":"datum.q1!=null"}],"mark":{"type":"bar","fill":"transparent","stroke":"#8c8c8c","strokeWidth":1},"encoding":{"y":{"field":"q1","type":"quantitative","title":null,"scale":{"domain":[0,1.03],"nice":false,"zero":false},"axis":{"title":null,"values":[0,0.2,0.4,0.6,0.8,1],"tickCount":6,"format":".1f","labelFontSize":16,"labelOverlap":false}},"y2":{"field":"q3"}}},
{"transform":[{"filter":"datum.q1!=null"}],"mark":{"type":"rule","stroke":"#555","strokeDash":[3,3]},"encoding":{"y":{"field":"q3","type":"quantitative"},"y2":{"field":"uw"}}},
{"transform":[{"filter":"datum.q1!=null"}],"mark":{"type":"rule","stroke":"#555","strokeDash":[3,3]},"encoding":{"y":{"field":"lw","type":"quantitative"},"y2":{"field":"q1"}}},
{"transform":[{"filter":"datum.q1!=null"}],"mark":{"type":"bar","width":{"band":0.62},"fill":"transparent","stroke":"#999","strokeWidth":1},"encoding":{"y":{"field":"uw","type":"quantitative"},"y2":{"field":"uw"}}},
{"transform":[{"filter":"datum.q1!=null"}],"mark":{"type":"bar","width":{"band":0.62},"fill":"transparent","stroke":"#999","strokeWidth":1},"encoding":{"y":{"field":"lw","type":"quantitative"},"y2":{"field":"lw"}}},
{"transform":[{"filter":"datum.q1!=null"}],"mark":{"type":"bar","fill":"transparent","stroke":"#111","strokeWidth":2},"encoding":{"y":{"field":"md","type":"quantitative"},"y2":{"field":"md"}}},
{"transform":[{"filter":"datum.o!=null"},{"flatten":["o"]}],"mark":{"type":"point","filled":false,"size":20,"strokeWidth":1,"color":"#444"},"encoding":{"y":{"field":"o","type":"quantitative"}}},
{"data":{"values":[{"t":"All eyes are at the same pressure"}]},"mark":{"type":"text","align":"right","baseline":"alphabetic","fontSize":12,"dx":6,"color":"#000"},"encoding":{"x":{"datum":"Circumferential","bandPosition":1},"y":{"datum":0.04},"text":{"field":"t"}}}
]},
{"transform":[{"filter":"datum.e!=null"},{"flatten":["v"]}],"mark":{"type":"point","filled":false,"size":20,"strokeWidth":1,"opacity":0.75},"encoding":{"xOffset":{"field":"e","type":"nominal","scale":{"type":"point","padding":0.2}},"y":{"field":"v","type":"quantitative","axis":{"title":null,"values":[0,0.2,0.4,0.6,0.8,1],"tickCount":6,"format":".1f","labelFontSize":16,"labelOverlap":false}},"color":{"field":"e","type":"nominal","scale":{"domain":["e1","e2","e3","e4","e5","e6","e7","e8"],"range":["#000000","#1414ff","#ee1111","#22dd22","#aaaaaa","#ff9900","#9a22cc","#00e0ee"]},"legend":null}}}
]},
{"width":315,"height":192,"data":{"name":"d"},"transform":[{"filter":"datum.a=='Monkey'&&datum.m=='L'"}],
"resolve":{"scale":{"x":"independent","xOffset":"independent"}},
"encoding":{"x":{"field":"r","type":"nominal","scale":{"domain":["Interweaving","Radial","Circumferential"],"paddingInner":0.18,"paddingOuter":0.06},"axis":null}},
"layer":[
{"encoding":{"x":{"field":"r","type":"nominal","title":null,"scale":{"domain":["Interweaving","Radial","Circumferential"],"paddingInner":0.18,"paddingOuter":0.06},"axis":{"labels":false,"title":null,"tickSize":5}}},
"layer":[
{"transform":[{"filter":"datum.q1!=null"}],"mark":{"type":"bar","fill":"transparent","stroke":"#8c8c8c","strokeWidth":1},"encoding":{"y":{"field":"q1","type":"quantitative","title":"Monkey","scale":{"domain":[-44,183],"nice":false,"zero":false},"axis":{"title":"Monkey","values":[0,45,90,135,180],"tickCount":5,"labelExpr":"datum.value % 90 === 0 ? datum.label : ''","labelFontSize":17,"titleFontSize":21,"titleFontWeight":"bold","titlePadding":8,"labelOverlap":false}},"y2":{"field":"q3"}}},
{"transform":[{"filter":"datum.q1!=null"}],"mark":{"type":"rule","stroke":"#555","strokeDash":[3,3]},"encoding":{"y":{"field":"q3","type":"quantitative"},"y2":{"field":"uw"}}},
{"transform":[{"filter":"datum.q1!=null"}],"mark":{"type":"rule","stroke":"#555","strokeDash":[3,3]},"encoding":{"y":{"field":"lw","type":"quantitative"},"y2":{"field":"q1"}}},
{"transform":[{"filter":"datum.q1!=null"}],"mark":{"type":"bar","width":{"band":0.62},"fill":"transparent","stroke":"#999","strokeWidth":1},"encoding":{"y":{"field":"uw","type":"quantitative"},"y2":{"field":"uw"}}},
{"transform":[{"filter":"datum.q1!=null"}],"mark":{"type":"bar","width":{"band":0.62},"fill":"transparent","stroke":"#999","strokeWidth":1},"encoding":{"y":{"field":"lw","type":"quantitative"},"y2":{"field":"lw"}}},
{"transform":[{"filter":"datum.q1!=null"}],"mark":{"type":"bar","fill":"transparent","stroke":"#111","strokeWidth":2},"encoding":{"y":{"field":"md","type":"quantitative"},"y2":{"field":"md"}}}
]},
{"transform":[{"filter":"datum.e!=null"},{"flatten":["v"]}],"mark":{"type":"point","filled":false,"size":20,"strokeWidth":1,"opacity":0.75},"encoding":{"xOffset":{"field":"e","type":"nominal","scale":{"type":"point","padding":0.2}},"y":{"field":"v","type":"quantitative","axis":{"title":"Monkey","values":[0,45,90,135,180],"tickCount":5,"labelExpr":"datum.value % 90 === 0 ? datum.label : ''","labelFontSize":17,"titleFontSize":21,"titleFontWeight":"bold","titlePadding":8,"labelOverlap":false}},"color":{"field":"e","type":"nominal","scale":{"domain":["e1","e2","e3","e4","e5","e6","e7","e8"],"range":["#000000","#1414ff","#ee1111","#22dd22","#aaaaaa","#ff9900","#9a22cc","#00e0ee"]},"legend":null}}}
]},
{"width":315,"height":192,"data":{"name":"d"},"transform":[{"filter":"datum.a=='Monkey'&&datum.m=='R'"}],
"resolve":{"scale":{"x":"independent","xOffset":"independent","color":"independent"}},
"encoding":{"x":{"field":"r","type":"nominal","scale":{"domain":["Interweaving","Radial","Circumferential"],"paddingInner":0.18,"paddingOuter":0.06},"axis":null}},
"layer":[
{"encoding":{"x":{"field":"r","type":"nominal","title":null,"scale":{"domain":["Interweaving","Radial","Circumferential"],"paddingInner":0.18,"paddingOuter":0.06},"axis":{"labels":false,"title":null,"tickSize":5}}},
"layer":[
{"transform":[{"filter":"datum.q1!=null"}],"mark":{"type":"bar","fill":"transparent","stroke":"#8c8c8c","strokeWidth":1},"encoding":{"y":{"field":"q1","type":"quantitative","title":null,"scale":{"domain":[0,1.03],"nice":false,"zero":false},"axis":{"title":null,"values":[0,0.2,0.4,0.6,0.8,1],"tickCount":6,"format":".1f","labelFontSize":16,"labelOverlap":false}},"y2":{"field":"q3"}}},
{"transform":[{"filter":"datum.q1!=null"}],"mark":{"type":"rule","stroke":"#555","strokeDash":[3,3]},"encoding":{"y":{"field":"q3","type":"quantitative"},"y2":{"field":"uw"}}},
{"transform":[{"filter":"datum.q1!=null"}],"mark":{"type":"rule","stroke":"#555","strokeDash":[3,3]},"encoding":{"y":{"field":"lw","type":"quantitative"},"y2":{"field":"q1"}}},
{"transform":[{"filter":"datum.q1!=null"}],"mark":{"type":"bar","width":{"band":0.62},"fill":"transparent","stroke":"#999","strokeWidth":1},"encoding":{"y":{"field":"uw","type":"quantitative"},"y2":{"field":"uw"}}},
{"transform":[{"filter":"datum.q1!=null"}],"mark":{"type":"bar","width":{"band":0.62},"fill":"transparent","stroke":"#999","strokeWidth":1},"encoding":{"y":{"field":"lw","type":"quantitative"},"y2":{"field":"lw"}}},
{"transform":[{"filter":"datum.q1!=null"}],"mark":{"type":"bar","fill":"transparent","stroke":"#111","strokeWidth":2},"encoding":{"y":{"field":"md","type":"quantitative"},"y2":{"field":"md"}}},
{"transform":[{"filter":"datum.o!=null"},{"flatten":["o"]}],"mark":{"type":"point","filled":false,"size":20,"strokeWidth":1,"color":"#444"},"encoding":{"y":{"field":"o","type":"quantitative"}}}
]},
{"transform":[{"filter":"datum.e!=null"},{"flatten":["v"]}],"mark":{"type":"point","filled":false,"size":20,"strokeWidth":1,"opacity":0.75},"encoding":{"xOffset":{"field":"e","type":"nominal","scale":{"type":"point","padding":0.2}},"y":{"field":"v","type":"quantitative","axis":{"title":null,"values":[0,0.2,0.4,0.6,0.8,1],"tickCount":6,"format":".1f","labelFontSize":16,"labelOverlap":false}},"color":{"field":"e","type":"nominal","scale":{"domain":["e1","e2","e3","e4","e5","e6","e7","e8"],"range":["#000000","#1414ff","#ee1111","#22dd22","#aaaaaa","#ff9900","#9a22cc","#00e0ee"]},"legend":null}}},
{"transform":[{"filter":"false"}],"mark":{"type":"point","filled":false},"encoding":{"y":{"field":"v","type":"quantitative"},"stroke":{"field":"e","type":"nominal","scale":{"domain":["p1","p2","e1"],"range":["rgba(0,0,0,0)","rgba(0,0,0,0)","#000000"]},"legend":{"orient":"bottom-right","direction":"horizontal","title":null,"labelExpr":"datum.value == 'e1' ? '30 mmHg' : ''","symbolType":"circle","symbolSize":110,"symbolStrokeWidth":2.5,"symbolOpacity":1,"symbolFillColor":"transparent","labelFontSize":12,"labelOffset":5,"columnPadding":-8,"offset":7,"padding":0}}}},
{"transform":[{"filter":"false"}],"mark":{"type":"point","filled":false},"encoding":{"y":{"field":"v","type":"quantitative"},"color":{"field":"e","type":"nominal","scale":{"domain":["e2","e3","e4"],"range":["#1414ff","#ee1111","#22dd22"]},"legend":{"orient":"bottom-right","direction":"horizontal","title":null,"labelExpr":"datum.value == 'e4' ? '6 mmHg' : ''","symbolType":"circle","symbolSize":110,"symbolStrokeWidth":2.5,"symbolOpacity":1,"symbolFillColor":"transparent","labelFontSize":12,"labelOffset":5,"columnPadding":-8,"offset":7,"padding":0}}}}
]},
{"width":315,"height":192,"data":{"name":"d"},"transform":[{"filter":"datum.a=='Pig'&&datum.m=='L'"}],
"resolve":{"scale":{"x":"independent","xOffset":"independent"}},
"encoding":{"x":{"field":"r","type":"nominal","scale":{"domain":["Interweaving","Radial","Circumferential"],"paddingInner":0.18,"paddingOuter":0.06},"axis":null}},
"layer":[
{"encoding":{"x":{"field":"r","type":"nominal","title":null,"scale":{"domain":["Interweaving","Radial","Circumferential"],"paddingInner":0.18,"paddingOuter":0.06},"axis":{"labels":false,"title":null,"tickSize":5}}},
"layer":[
{"transform":[{"filter":"datum.q1!=null"}],"mark":{"type":"bar","fill":"transparent","stroke":"#8c8c8c","strokeWidth":1},"encoding":{"y":{"field":"q1","type":"quantitative","title":"Pig","scale":{"domain":[-33,192],"nice":false,"zero":false},"axis":{"title":"Pig","values":[0,45,90,135,180],"tickCount":5,"labelExpr":"datum.value % 90 === 0 ? datum.label : ''","labelFontSize":17,"titleFontSize":21,"titleFontWeight":"bold","titlePadding":8,"labelOverlap":false}},"y2":{"field":"q3"}}},
{"transform":[{"filter":"datum.q1!=null"}],"mark":{"type":"rule","stroke":"#555","strokeDash":[3,3]},"encoding":{"y":{"field":"q3","type":"quantitative"},"y2":{"field":"uw"}}},
{"transform":[{"filter":"datum.q1!=null"}],"mark":{"type":"rule","stroke":"#555","strokeDash":[3,3]},"encoding":{"y":{"field":"lw","type":"quantitative"},"y2":{"field":"q1"}}},
{"transform":[{"filter":"datum.q1!=null"}],"mark":{"type":"bar","width":{"band":0.62},"fill":"transparent","stroke":"#999","strokeWidth":1},"encoding":{"y":{"field":"uw","type":"quantitative"},"y2":{"field":"uw"}}},
{"transform":[{"filter":"datum.q1!=null"}],"mark":{"type":"bar","width":{"band":0.62},"fill":"transparent","stroke":"#999","strokeWidth":1},"encoding":{"y":{"field":"lw","type":"quantitative"},"y2":{"field":"lw"}}},
{"transform":[{"filter":"datum.q1!=null"}],"mark":{"type":"bar","fill":"transparent","stroke":"#111","strokeWidth":2},"encoding":{"y":{"field":"md","type":"quantitative"},"y2":{"field":"md"}}}
]},
{"transform":[{"filter":"datum.e!=null"},{"flatten":["v"]}],"mark":{"type":"point","filled":false,"size":20,"strokeWidth":1,"opacity":0.75},"encoding":{"xOffset":{"field":"e","type":"nominal","scale":{"type":"point","padding":0.2}},"y":{"field":"v","type":"quantitative","axis":{"title":"Pig","values":[0,45,90,135,180],"tickCount":5,"labelExpr":"datum.value % 90 === 0 ? datum.label : ''","labelFontSize":17,"titleFontSize":21,"titleFontWeight":"bold","titlePadding":8,"labelOverlap":false}},"color":{"field":"e","type":"nominal","scale":{"domain":["e1","e2","e3","e4","e5","e6","e7","e8"],"range":["#000000","#1414ff","#ee1111","#22dd22","#aaaaaa","#ff9900","#9a22cc","#00e0ee"]},"legend":null}}}
]},
{"width":315,"height":192,"data":{"name":"d"},"transform":[{"filter":"datum.a=='Pig'&&datum.m=='R'"}],
"resolve":{"scale":{"x":"independent","xOffset":"independent"}},
"encoding":{"x":{"field":"r","type":"nominal","scale":{"domain":["Interweaving","Radial","Circumferential"],"paddingInner":0.18,"paddingOuter":0.06},"axis":null}},
"layer":[
{"encoding":{"x":{"field":"r","type":"nominal","title":null,"scale":{"domain":["Interweaving","Radial","Circumferential"],"paddingInner":0.18,"paddingOuter":0.06},"axis":{"labels":false,"title":null,"tickSize":5}}},
"layer":[
{"transform":[{"filter":"datum.q1!=null"}],"mark":{"type":"bar","fill":"transparent","stroke":"#8c8c8c","strokeWidth":1},"encoding":{"y":{"field":"q1","type":"quantitative","title":null,"scale":{"domain":[0,1.03],"nice":false,"zero":false},"axis":{"title":null,"values":[0,0.2,0.4,0.6,0.8,1],"tickCount":6,"format":".1f","labelFontSize":16,"labelOverlap":false}},"y2":{"field":"q3"}}},
{"transform":[{"filter":"datum.q1!=null"}],"mark":{"type":"rule","stroke":"#555","strokeDash":[3,3]},"encoding":{"y":{"field":"q3","type":"quantitative"},"y2":{"field":"uw"}}},
{"transform":[{"filter":"datum.q1!=null"}],"mark":{"type":"rule","stroke":"#555","strokeDash":[3,3]},"encoding":{"y":{"field":"lw","type":"quantitative"},"y2":{"field":"q1"}}},
{"transform":[{"filter":"datum.q1!=null"}],"mark":{"type":"bar","width":{"band":0.62},"fill":"transparent","stroke":"#999","strokeWidth":1},"encoding":{"y":{"field":"uw","type":"quantitative"},"y2":{"field":"uw"}}},
{"transform":[{"filter":"datum.q1!=null"}],"mark":{"type":"bar","width":{"band":0.62},"fill":"transparent","stroke":"#999","strokeWidth":1},"encoding":{"y":{"field":"lw","type":"quantitative"},"y2":{"field":"lw"}}},
{"transform":[{"filter":"datum.q1!=null"}],"mark":{"type":"bar","fill":"transparent","stroke":"#111","strokeWidth":2},"encoding":{"y":{"field":"md","type":"quantitative"},"y2":{"field":"md"}}},
{"transform":[{"filter":"datum.o!=null"},{"flatten":["o"]}],"mark":{"type":"point","filled":false,"size":20,"strokeWidth":1,"color":"#444"},"encoding":{"y":{"field":"o","type":"quantitative"}}},
{"data":{"values":[{"t":"All eyes are at the same pressure"}]},"mark":{"type":"text","align":"right","baseline":"alphabetic","fontSize":12,"dx":6,"color":"#000"},"encoding":{"x":{"datum":"Circumferential","bandPosition":1},"y":{"datum":0.04},"text":{"field":"t"}}}
]},
{"transform":[{"filter":"datum.e!=null"},{"flatten":["v"]}],"mark":{"type":"point","filled":false,"size":20,"strokeWidth":1,"opacity":0.75},"encoding":{"xOffset":{"field":"e","type":"nominal","scale":{"type":"point","padding":0.2}},"y":{"field":"v","type":"quantitative","axis":{"title":null,"values":[0,0.2,0.4,0.6,0.8,1],"tickCount":6,"format":".1f","labelFontSize":16,"labelOverlap":false}},"color":{"field":"e","type":"nominal","scale":{"domain":["e1","e2","e3","e4","e5","e6","e7","e8"],"range":["#000000","#1414ff","#ee1111","#22dd22","#aaaaaa","#ff9900","#9a22cc","#00e0ee"]},"legend":null}}}
]},
{"width":315,"height":192,"data":{"name":"d"},"transform":[{"filter":"datum.a=='Sheep'&&datum.m=='L'"}],
"resolve":{"scale":{"x":"independent","xOffset":"independent"}},
"encoding":{"x":{"field":"r","type":"nominal","scale":{"domain":["Interweaving","Radial","Circumferential"],"paddingInner":0.18,"paddingOuter":0.06},"axis":null}},
"layer":[
{"encoding":{"x":{"field":"r","type":"nominal","title":null,"scale":{"domain":["Interweaving","Radial","Circumferential"],"paddingInner":0.18,"paddingOuter":0.06},"axis":{"labels":true,"title":null,"tickSize":5,"labelFontSize":13,"labelAngle":0,"labelPadding":4}}},
"layer":[
{"transform":[{"filter":"datum.q1!=null"}],"mark":{"type":"bar","fill":"transparent","stroke":"#8c8c8c","strokeWidth":1},"encoding":{"y":{"field":"q1","type":"quantitative","title":"Sheep","scale":{"domain":[-49,182],"nice":false,"zero":false},"axis":{"title":"Sheep","values":[0,45,90,135,180],"tickCount":5,"labelExpr":"datum.value % 90 === 0 ? datum.label : ''","labelFontSize":17,"titleFontSize":21,"titleFontWeight":"bold","titlePadding":8,"labelOverlap":false}},"y2":{"field":"q3"}}},
{"transform":[{"filter":"datum.q1!=null"}],"mark":{"type":"rule","stroke":"#555","strokeDash":[3,3]},"encoding":{"y":{"field":"q3","type":"quantitative"},"y2":{"field":"uw"}}},
{"transform":[{"filter":"datum.q1!=null"}],"mark":{"type":"rule","stroke":"#555","strokeDash":[3,3]},"encoding":{"y":{"field":"lw","type":"quantitative"},"y2":{"field":"q1"}}},
{"transform":[{"filter":"datum.q1!=null"}],"mark":{"type":"bar","width":{"band":0.62},"fill":"transparent","stroke":"#999","strokeWidth":1},"encoding":{"y":{"field":"uw","type":"quantitative"},"y2":{"field":"uw"}}},
{"transform":[{"filter":"datum.q1!=null"}],"mark":{"type":"bar","width":{"band":0.62},"fill":"transparent","stroke":"#999","strokeWidth":1},"encoding":{"y":{"field":"lw","type":"quantitative"},"y2":{"field":"lw"}}},
{"transform":[{"filter":"datum.q1!=null"}],"mark":{"type":"bar","fill":"transparent","stroke":"#111","strokeWidth":2},"encoding":{"y":{"field":"md","type":"quantitative"},"y2":{"field":"md"}}},
{"transform":[{"filter":"datum.o!=null"},{"flatten":["o"]}],"mark":{"type":"point","filled":false,"size":38,"strokeWidth":1.2,"color":"#333"},"encoding":{"y":{"field":"o","type":"quantitative"}}}
]},
{"transform":[{"filter":"datum.e!=null"},{"flatten":["v"]}],"mark":{"type":"point","filled":false,"size":38,"strokeWidth":1.2,"opacity":0.8},"encoding":{"xOffset":{"field":"e","type":"nominal","scale":{"type":"point","padding":0.2}},"y":{"field":"v","type":"quantitative","axis":{"title":"Sheep","values":[0,45,90,135,180],"tickCount":5,"labelExpr":"datum.value % 90 === 0 ? datum.label : ''","labelFontSize":17,"titleFontSize":21,"titleFontWeight":"bold","titlePadding":8,"labelOverlap":false}},"color":{"field":"e","type":"nominal","scale":{"domain":["e1","e2","e3","e4","e5","e6","e7","e8"],"range":["#000000","#1414ff","#ee1111","#22dd22","#aaaaaa","#ff9900","#9a22cc","#00e0ee"]},"legend":null}}}
]},
{"width":315,"height":192,"data":{"name":"d"},"transform":[{"filter":"datum.a=='Sheep'&&datum.m=='R'"}],
"resolve":{"scale":{"x":"independent","xOffset":"independent","color":"independent"}},
"encoding":{"x":{"field":"r","type":"nominal","scale":{"domain":["Interweaving","Radial","Circumferential"],"paddingInner":0.18,"paddingOuter":0.06},"axis":null}},
"layer":[
{"encoding":{"x":{"field":"r","type":"nominal","title":null,"scale":{"domain":["Interweaving","Radial","Circumferential"],"paddingInner":0.18,"paddingOuter":0.06},"axis":{"labels":true,"title":null,"tickSize":5,"labelFontSize":13,"labelAngle":0,"labelPadding":4}}},
"layer":[
{"transform":[{"filter":"datum.q1!=null"}],"mark":{"type":"bar","fill":"transparent","stroke":"#8c8c8c","strokeWidth":1},"encoding":{"y":{"field":"q1","type":"quantitative","title":null,"scale":{"domain":[0,1.03],"nice":false,"zero":false},"axis":{"title":null,"values":[0,0.2,0.4,0.6,0.8,1],"tickCount":6,"format":".1f","labelFontSize":16,"labelOverlap":false}},"y2":{"field":"q3"}}},
{"transform":[{"filter":"datum.q1!=null"}],"mark":{"type":"rule","stroke":"#555","strokeDash":[3,3]},"encoding":{"y":{"field":"q3","type":"quantitative"},"y2":{"field":"uw"}}},
{"transform":[{"filter":"datum.q1!=null"}],"mark":{"type":"rule","stroke":"#555","strokeDash":[3,3]},"encoding":{"y":{"field":"lw","type":"quantitative"},"y2":{"field":"q1"}}},
{"transform":[{"filter":"datum.q1!=null"}],"mark":{"type":"bar","width":{"band":0.62},"fill":"transparent","stroke":"#999","strokeWidth":1},"encoding":{"y":{"field":"uw","type":"quantitative"},"y2":{"field":"uw"}}},
{"transform":[{"filter":"datum.q1!=null"}],"mark":{"type":"bar","width":{"band":0.62},"fill":"transparent","stroke":"#999","strokeWidth":1},"encoding":{"y":{"field":"lw","type":"quantitative"},"y2":{"field":"lw"}}},
{"transform":[{"filter":"datum.q1!=null"}],"mark":{"type":"bar","fill":"transparent","stroke":"#111","strokeWidth":2},"encoding":{"y":{"field":"md","type":"quantitative"},"y2":{"field":"md"}}}
]},
{"transform":[{"filter":"datum.e!=null"},{"flatten":["v"]}],"mark":{"type":"point","filled":false,"size":20,"strokeWidth":1,"opacity":0.75},"encoding":{"xOffset":{"field":"e","type":"nominal","scale":{"type":"point","padding":0.2}},"y":{"field":"v","type":"quantitative","axis":{"title":null,"values":[0,0.2,0.4,0.6,0.8,1],"tickCount":6,"format":".1f","labelFontSize":16,"labelOverlap":false}},"color":{"field":"e","type":"nominal","scale":{"domain":["e1","e2","e3","e4","e5","e6","e7","e8"],"range":["#000000","#1414ff","#ee1111","#22dd22","#aaaaaa","#ff9900","#9a22cc","#00e0ee"]},"legend":null}}},
{"transform":[{"filter":"false"}],"mark":{"type":"point","filled":false},"encoding":{"y":{"field":"v","type":"quantitative"},"stroke":{"field":"e","type":"nominal","scale":{"domain":["p1","p2","e5","e6","e7"],"range":["rgba(0,0,0,0)","rgba(0,0,0,0)","#999999","#ff9900","#9a22cc"]},"legend":{"orient":"bottom-right","direction":"horizontal","title":null,"labelExpr":"datum.value == 'e7' ? '50 mmHg' : ''","symbolType":"circle","symbolSize":85,"symbolStrokeWidth":2.5,"symbolOpacity":1,"symbolFillColor":"transparent","labelFontSize":12,"labelOffset":4,"columnPadding":-13,"offset":7,"padding":0}}}},
{"transform":[{"filter":"false"}],"mark":{"type":"point","filled":false},"encoding":{"y":{"field":"v","type":"quantitative"},"color":{"field":"e","type":"nominal","scale":{"domain":["e1","e2","e3","e4","e8"],"range":["#000000","#1414ff","#ee1111","#22dd22","#00e0ee"]},"legend":{"orient":"bottom-right","direction":"horizontal","title":null,"labelExpr":"datum.value == 'e8' ? '5 mmHg' : ''","symbolType":"circle","symbolSize":85,"symbolStrokeWidth":2.5,"symbolOpacity":1,"symbolFillColor":"transparent","labelFontSize":12,"labelOffset":4,"columnPadding":-13,"offset":7,"padding":0}}}}
]}
],
"config":{
"font":"Liberation Sans",
"view":{"stroke":null},
"axis":{"grid":false,"domainColor":"#555","tickColor":"#555","labelColor":"#000","titleColor":"#000","tickSize":6,"labelPadding":2,"labelFlush":false,"labelOverlap":false},
"axisY":{"labelOverlap":false},
"axisQuantitative":{"labelOverlap":false},
"title":{"color":"#000","subtitleColor":"#000"},
"legend":{"labelColor":"#000","layout":{"bottom-right":{"direction":"vertical","anchor":"end","margin":8}}}
}
}
